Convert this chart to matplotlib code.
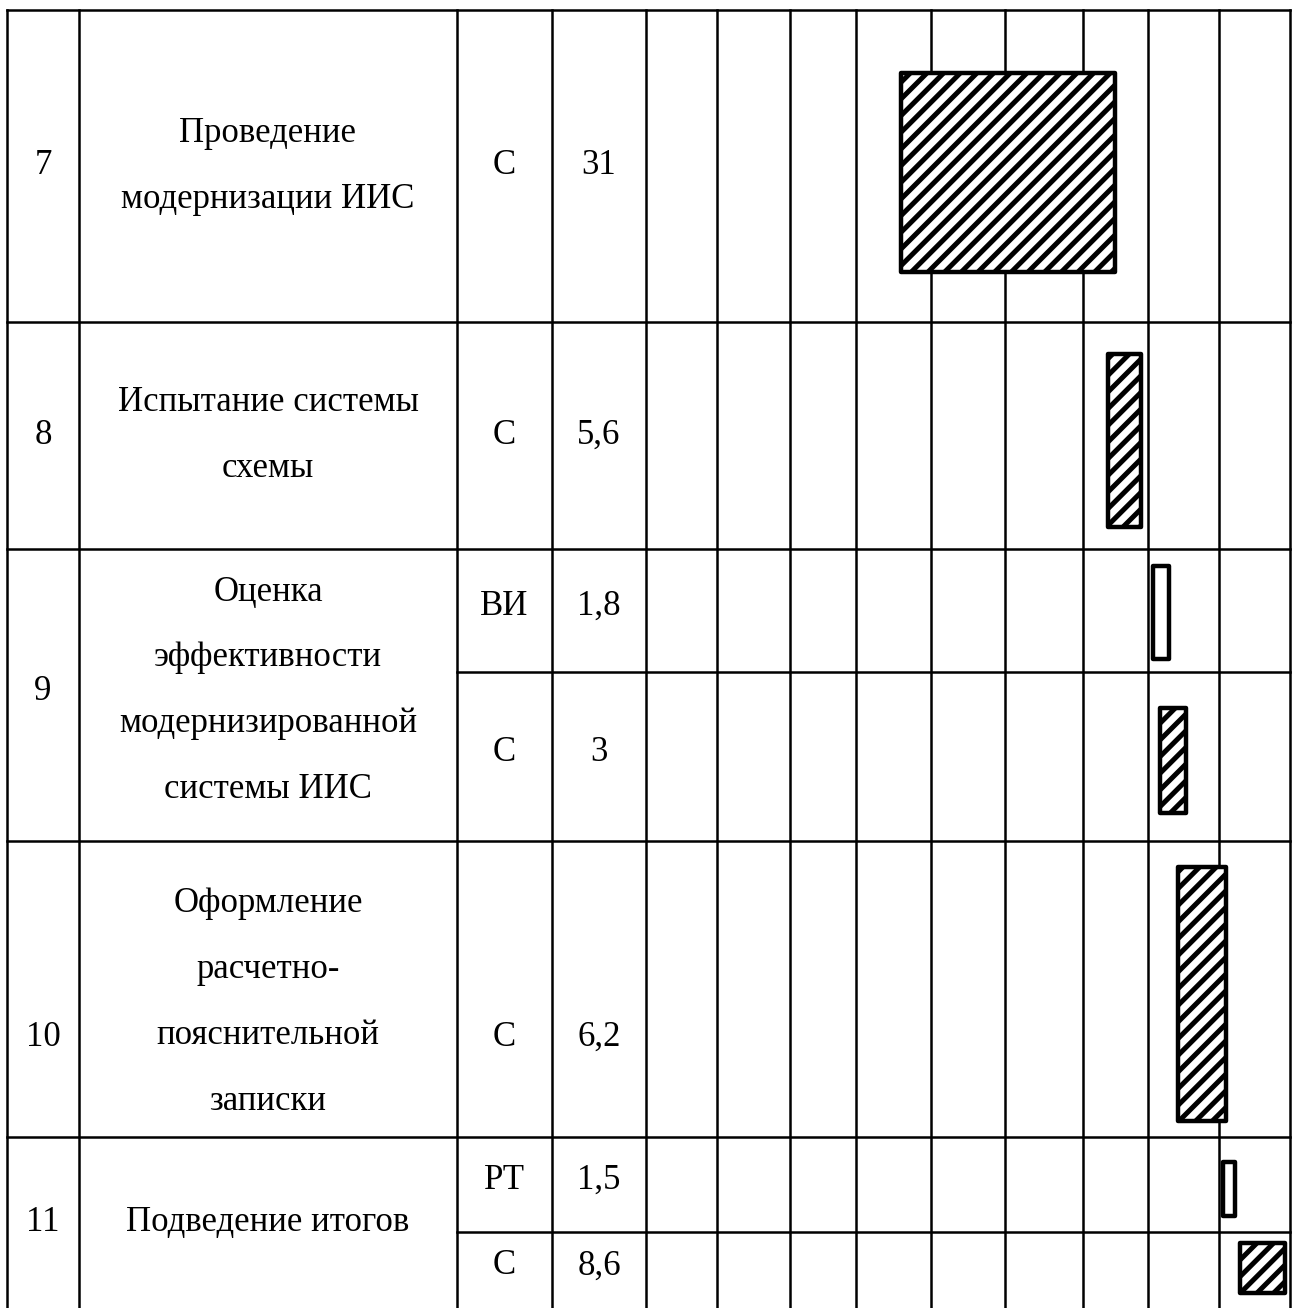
import matplotlib
matplotlib.use("Agg")
import matplotlib.pyplot as plt
import numpy as np

# --- data -------------------------------------------------------------
task_ids = ["7", "8", "9", "10", "11"]
task_names = [
    "Проведение\nмодернизации ИИС",
    "Испытание системы\nсхемы",
    "Оценка\nэффективности\nмодернизированной\nсистемы ИИС",
    "Оформление\nрасчетно-\nпояснительной\nзаписки",
    "Подведение итогов",
]
# one entry per executor sub-row
sub_task = [0, 1, 2, 2, 3, 4, 4]
sub_role = ["С", "С", "ВИ", "С", "С", "РТ", "С"]
sub_days = ["31", "5,6", "1,8", "3", "6,2", "1,5", "8,6"]
# bar start / end on the timeline (period units, 9 periods)
bar_start = [3.56, 6.46, 7.08, 7.18, 7.43, 8.06, 8.30]
bar_end = [6.55, 6.92, 7.31, 7.55, 8.11, 8.23, 8.93]

# --- layout (pixels) --------------------------------------------------
W, H = 1297, 1308
col_x = [7, 79, 457, 552, 646]
t0, t1, n_periods = 646, 1290, 9
period_lines = [0.99, 2.01, 2.93, 3.98, 5.02, 6.11, 7.02, 8.01, 9.0]
sub_edges = [10, 322, 549, 672, 841, 1137, 1232, 1330]
task_edges = [10, 322, 549, 841, 1137, 1330]
bar_y = [(73, 272), (354, 527), (566, 659), (708, 813),
         (867, 1121), (1162, 1216), (1243, 1293)]
# vertical text offsets (px) per task: (name block, single cells)
task_dy = [(0, 0), (0, 0), (-4, -4), (14, 48), (0, 0)]
role_hatch = {"С": "//", "ВИ": "", "РТ": ""}

LW = 1.8
plt.rcParams["hatch.linewidth"] = 3.6
plt.rcParams["hatch.color"] = "black"
font = dict(family="Liberation Serif", fontsize=25, color="black")

fig = plt.figure(figsize=(W / 100, H / 100), dpi=100)
ax = fig.add_axes([0, 0, 1, 1])
ax.set_xlim(0, W)
ax.set_ylim(H, 0)
ax.axis("off")

# vertical table lines
for x in col_x + [t0 + (t1 - t0) * p / n_periods for p in period_lines]:
    ax.plot([x, x], [sub_edges[0], H], color="black", lw=LW, solid_capstyle="projecting")
# horizontal lines: task borders span the whole table, sub-row borders start at role column
for y in task_edges[:-1]:
    ax.plot([col_x[0], t1], [y, y], color="black", lw=LW, solid_capstyle="projecting")
for y in sub_edges[:-1]:
    if y not in task_edges:
        ax.plot([col_x[2], t1], [y, y], color="black", lw=LW, solid_capstyle="projecting")

# text columns
for i, (tid, name) in enumerate(zip(task_ids, task_names)):
    yc = (task_edges[i] + min(task_edges[i + 1], H)) / 2
    dy_name, dy_cell = task_dy[i]
    ax.text((col_x[0] + col_x[1]) / 2, yc + dy_cell, tid, ha="center", va="center", **font)
    ax.text((col_x[1] + col_x[2]) / 2, yc + dy_name, name, ha="center", va="center",
            linespacing=2.32, **font)
for j, (role, days) in enumerate(zip(sub_role, sub_days)):
    yc = (sub_edges[j] + min(sub_edges[j + 1], H)) / 2
    if sub_task.count(sub_task[j]) == 1:
        yc += task_dy[sub_task[j]][1]
    else:
        yc -= 4
    ax.text((col_x[2] + col_x[3]) / 2, yc, role, ha="center", va="center", **font)
    ax.text((col_x[3] + col_x[4]) / 2, yc, days, ha="center", va="center", **font)

# gantt bars on their own axes (x in periods)
gx = fig.add_axes([t0 / W, 0, (t1 - t0) / W, 1])
gx.set_xlim(0, n_periods)
gx.set_ylim(H, 0)
gx.axis("off")
gx.patch.set_alpha(0)
for j in range(len(sub_role)):
    y0, y1 = bar_y[j]
    bars = gx.barh((y0 + y1) / 2, bar_end[j] - bar_start[j], left=bar_start[j],
                   height=y1 - y0, color="white", edgecolor="black", linewidth=3.2,
                   hatch=role_hatch[sub_role[j]])
    for b in bars:
        b.set_joinstyle("round")

fig.savefig("out.png", dpi=100)
